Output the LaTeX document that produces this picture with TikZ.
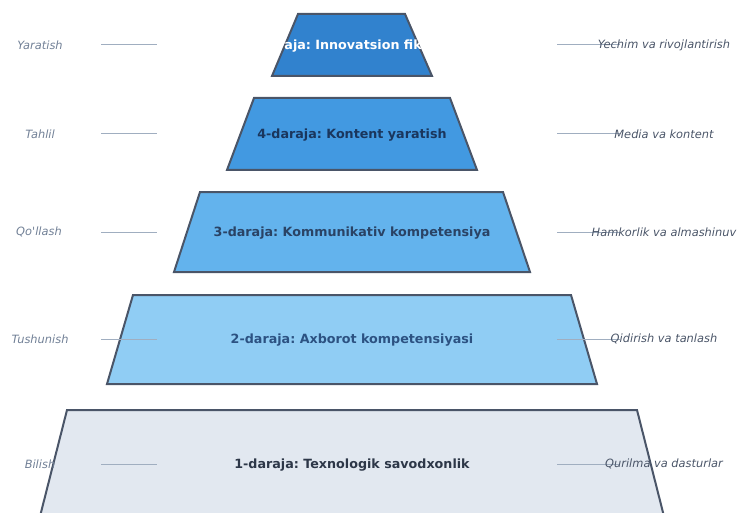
\documentclass[tikz,border=0pt]{standalone}
\usepackage{fontspec}
\setmainfont{DejaVu Sans}
\usetikzlibrary{positioning}
\definecolor{edgegrey}{HTML}{4A5568}
\definecolor{tickgrey}{HTML}{A0AEC0}
\definecolor{leftgrey}{HTML}{718096}
\definecolor{rightgrey}{HTML}{4A5568}
\definecolor{lvlfive}{HTML}{3182CE}
\definecolor{lvlfour}{HTML}{4299E1}
\definecolor{lvlthree}{HTML}{63B3ED}
\definecolor{lvltwo}{HTML}{90CDF4}
\definecolor{lvlone}{HTML}{E2E8F0}
\definecolor{txtfour}{HTML}{1A365D}
\definecolor{txtthree}{HTML}{2A4365}
\definecolor{txttwo}{HTML}{2C5282}
\definecolor{txtone}{HTML}{2D3748}
\tikzset{
  levelbox/.style={draw=edgegrey, line width=2pt},
  title/.style={font=\fontsize{12.7}{15}\selectfont\bfseries},
  leftlab/.style={font=\fontsize{11.4}{14}\selectfont\itshape, text=leftgrey},
  rightlab/.style={font=\fontsize{11.4}{14}\selectfont\itshape, text=rightgrey},
  tick/.style={draw=tickgrey, line width=1pt}
}
\frenchspacing

\begin{document}
\begin{tikzpicture}[x=1pt,y=-1pt]
        \useasboundingbox (0,0) rectangle (738,513);
        \clip (0,0) rectangle (738,513);
        % Pyramid levels
        \draw[levelbox, fill=lvlfive] (272,76) -- (298,14) -- (405,14) -- (432,76) -- cycle;
        \draw[levelbox, fill=lvlfour] (227,170) -- (254,98) -- (450,98) -- (477,170) -- cycle;
        \draw[levelbox, fill=lvlthree] (174,272) -- (200,192) -- (503,192) -- (530,272) -- cycle;
        \draw[levelbox, fill=lvltwo] (107,384) -- (133,295) -- (571,295) -- (597,384) -- cycle;
        \draw[levelbox, fill=lvlone] (34,540) -- (67,410) -- (637,410) -- (670,540) -- cycle;
        % Titles of the levels
        \node[title, text=white] (five) at (352,46) {5-daraja: Innovatsion fikrlash};
        \node[title, text=txtfour] (four) at (352,135) {4-daraja: Kontent yaratish};
        \node[title, text=txtthree] (three) at (352,233) {3-daraja: Kommunikativ kompetensiya};
        \node[title, text=txttwo] (two) at (352,340) {2-daraja: Axborot kompetensiyasi};
        \node[title, text=txtone] (one) at (352,465) {1-daraja: Texnologik savodxonlik};
        % Left labels
        \node[leftlab] (yaratish) at (40,45) {Yaratish};
        \node[leftlab] (tahlil) at (40,134) {Tahlil};
        \node[leftlab] (qollash) at (39,232) {Qo\textquotesingle llash};
        \node[leftlab] (tushunish) at (40,339) {Tushunish};
        \node[leftlab] (bilish) at (40,464) {Bilish};
        \coordinate (la5) at (101,45);  \coordinate (lb5) at (157,45);
        \coordinate (la4) at (101,134); \coordinate (lb4) at (157,134);
        \coordinate (la3) at (101,232); \coordinate (lb3) at (157,232);
        \coordinate (la2) at (101,339); \coordinate (lb2) at (157,339);
        \coordinate (la1) at (101,464); \coordinate (lb1) at (157,464);
        \draw[tick] (la5) -- (lb5);
        \draw[tick] (la4) -- (lb4);
        \draw[tick] (la3) -- (lb3);
        \draw[tick] (la2) -- (lb2);
        \draw[tick] (la1) -- (lb1);
        % Right labels
        \coordinate (ra5) at (557,45);  \coordinate (rb5) at (620,45);
        \coordinate (ra4) at (557,134); \coordinate (rb4) at (620,134);
        \coordinate (ra3) at (557,232); \coordinate (rb3) at (620,232);
        \coordinate (ra2) at (557,339); \coordinate (rb2) at (620,339);
        \coordinate (ra1) at (557,464); \coordinate (rb1) at (620,464);
        \draw[tick] (ra5) -- (rb5);
        \draw[tick] (ra4) -- (rb4);
        \draw[tick] (ra3) -- (rb3);
        \draw[tick] (ra2) -- (rb2);
        \draw[tick] (ra1) -- (rb1);
        \node[rightlab] (yechim) at (664,45) {Yechim va rivojlantirish};
        \node[rightlab] (media) at (664,134) {Media va kontent};
        \node[rightlab] (hamkorlik) at (664,232) {Hamkorlik va almashinuv};
        \node[rightlab] (qidirish) at (664,339) {Qidirish va tanlash};
        \node[rightlab] (qurilma) at (664,464) {Qurilma va dasturlar};
    \end{tikzpicture}
\end{document}
